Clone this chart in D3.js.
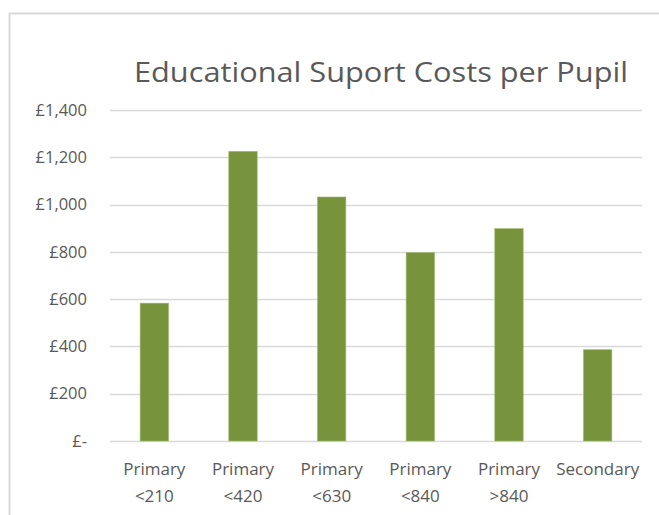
<!DOCTYPE html>
<html>
<head>
<meta charset="utf-8">
<script src="https://cdn.jsdelivr.net/npm/d3@7"></script>
<style>
  body { margin: 0; background: #fff; }
  text { font-family: "Open Sans", "Noto Sans", sans-serif; fill: #595959; }
</style>
</head>
<body>
<svg id="chart" width="659" height="515"></svg>
<script>
// Chart data
const categories = ["Primary <210", "Primary <420", "Primary <630", "Primary <840", "Primary >840", "Secondary"];
const values = [583, 1225, 1032, 797, 898, 386];
const yTicks = [0, 200, 400, 600, 800, 1000, 1200, 1400];
const title = "Educational Suport Costs per Pupil";

const svg = d3.select("#chart");
const width = 659, height = 515;
const margin = { top: 110, right: 17, bottom: 74, left: 110 };

// Outer chart border (right and bottom run off the picture)
svg.append("rect")
    .attr("x", 9.5)
    .attr("y", 13.5)
    .attr("width", 700)
    .attr("height", 600)
    .attr("fill", "none")
    .attr("stroke", "#d9d9d9")
    .attr("stroke-width", 2);

// Scales
const x = d3.scaleBand()
    .domain(categories)
    .range([margin.left, width - margin.right])
    .paddingInner(0.68)
    .paddingOuter(0.34);

const y = d3.scaleLinear()
    .domain([0, 1400])
    .range([height - margin.bottom, margin.top]);

// Gridlines
svg.append("g")
    .selectAll("line")
    .data(yTicks)
    .enter()
    .append("line")
        .attr("x1", margin.left)
        .attr("x2", width - margin.right)
        .attr("y1", d => Math.round(y(d)) + 0.5)
        .attr("y2", d => Math.round(y(d)) + 0.5)
        .attr("stroke", "#d9d9d9")
        .attr("stroke-width", 1.3);

// Y tick labels
const fmt = d => d === 0 ? "£-" : "£" + d3.format(",")(d);
svg.append("g")
    .selectAll("text")
    .data(yTicks)
    .enter()
    .append("text")
        .attr("x", 87)
        .attr("y", d => y(d))
        .attr("dy", "0.35em")
        .attr("text-anchor", "end")
        .attr("font-size", "16.5px")
        .text(fmt);

// Bars
svg.append("g")
    .selectAll("rect")
    .data(values)
    .enter()
    .append("rect")
        .attr("x", (d, i) => x(categories[i]))
        .attr("y", d => y(d))
        .attr("width", x.bandwidth())
        .attr("height", d => y(0) - y(d))
        .attr("fill", "#77933c")
        .attr("stroke", "#9bb86a")
        .attr("stroke-width", 0.6);

// X labels (wrapped onto two lines)
const xl = svg.append("g")
    .selectAll("text")
    .data(categories)
    .enter()
    .append("text")
        .attr("text-anchor", "middle")
        .attr("font-size", "17px")
        .attr("transform", d => `translate(${x(d) + x.bandwidth() / 2}, 475)`);

xl.each(function(d) {
    const parts = d.split(" ");
    const t = d3.select(this);
    parts.forEach((p, i) => {
        t.append("tspan")
            .attr("x", 0)
            .attr("y", i * 27)
            .text(p);
    });
});

// Title
svg.append("text")
    .attr("x", 134)
    .attr("y", 82)
    .attr("font-size", "28px")
    .attr("textLength", 494)
    .attr("lengthAdjust", "spacingAndGlyphs")
    .text(title);
</script>
</body>
</html>
